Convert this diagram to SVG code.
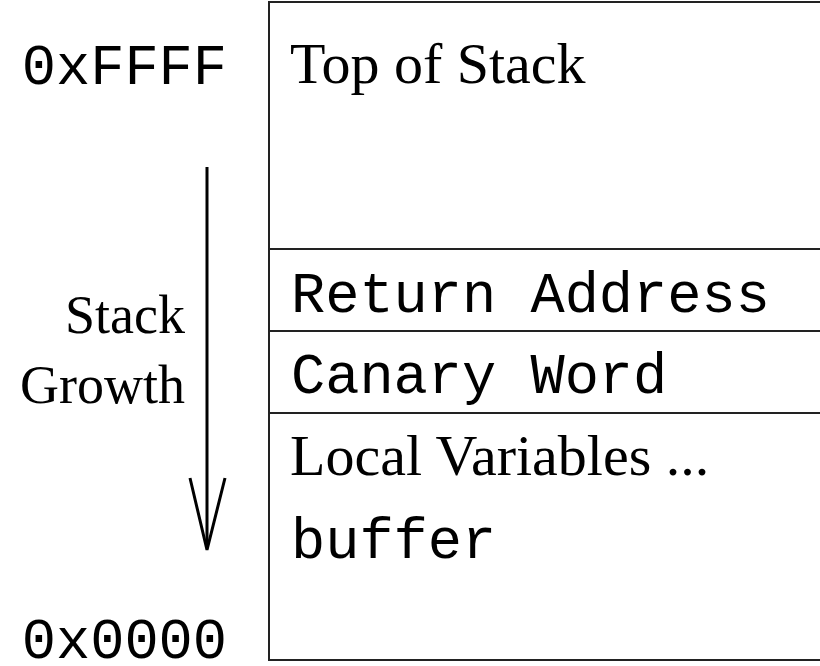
<svg xmlns="http://www.w3.org/2000/svg" width="820" height="666" viewBox="0 0 820 666">
<style>
.mono{font-family:"Liberation Mono","Courier New",monospace;font-size:57px;fill:#000}
.serif{font-family:"Liberation Serif","Times New Roman",serif;font-size:58px;fill:#000}
.side{font-family:"Liberation Serif","Times New Roman",serif;font-size:54px;fill:#000}
.box{fill:none;stroke:#222;stroke-width:2}
.arrow{fill:none;stroke:#000;stroke-width:3}
</style>
<rect width="820" height="666" fill="#fff"/>
<g id="stack">
<rect class="box" x="269" y="2" width="600" height="658"/>
</g>
<g id="top-of-stack"><text class="serif" x="290" y="83">Top of Stack</text></g>
<g id="return-address"><line class="box" x1="269" y1="249" x2="820" y2="249"/><text class="mono" x="291" y="312">Return Address</text></g>
<g id="canary-word"><line class="box" x1="269" y1="331" x2="820" y2="331"/><text class="mono" x="291" y="393">Canary Word</text></g>
<g id="local-variables"><line class="box" x1="269" y1="413" x2="820" y2="413"/><text class="serif" x="290" y="475">Local Variables ...</text><text class="mono" x="291" y="558">buffer</text></g>
<g id="addr-high"><text class="mono" x="227" y="84" text-anchor="end">0xFFFF</text></g>
<g id="addr-low"><text class="mono" x="227" y="658" text-anchor="end">0x0000</text></g>
<g id="growth-label"><text class="side" x="185" y="333" text-anchor="end">Stack</text><text class="side" x="185" y="403" text-anchor="end">Growth</text></g>
<g id="connectors">
<line class="arrow" x1="207" y1="167" x2="207" y2="548"/>
<polyline class="arrow" points="190,478 207,550 225,478"/>
</g>
</svg>
